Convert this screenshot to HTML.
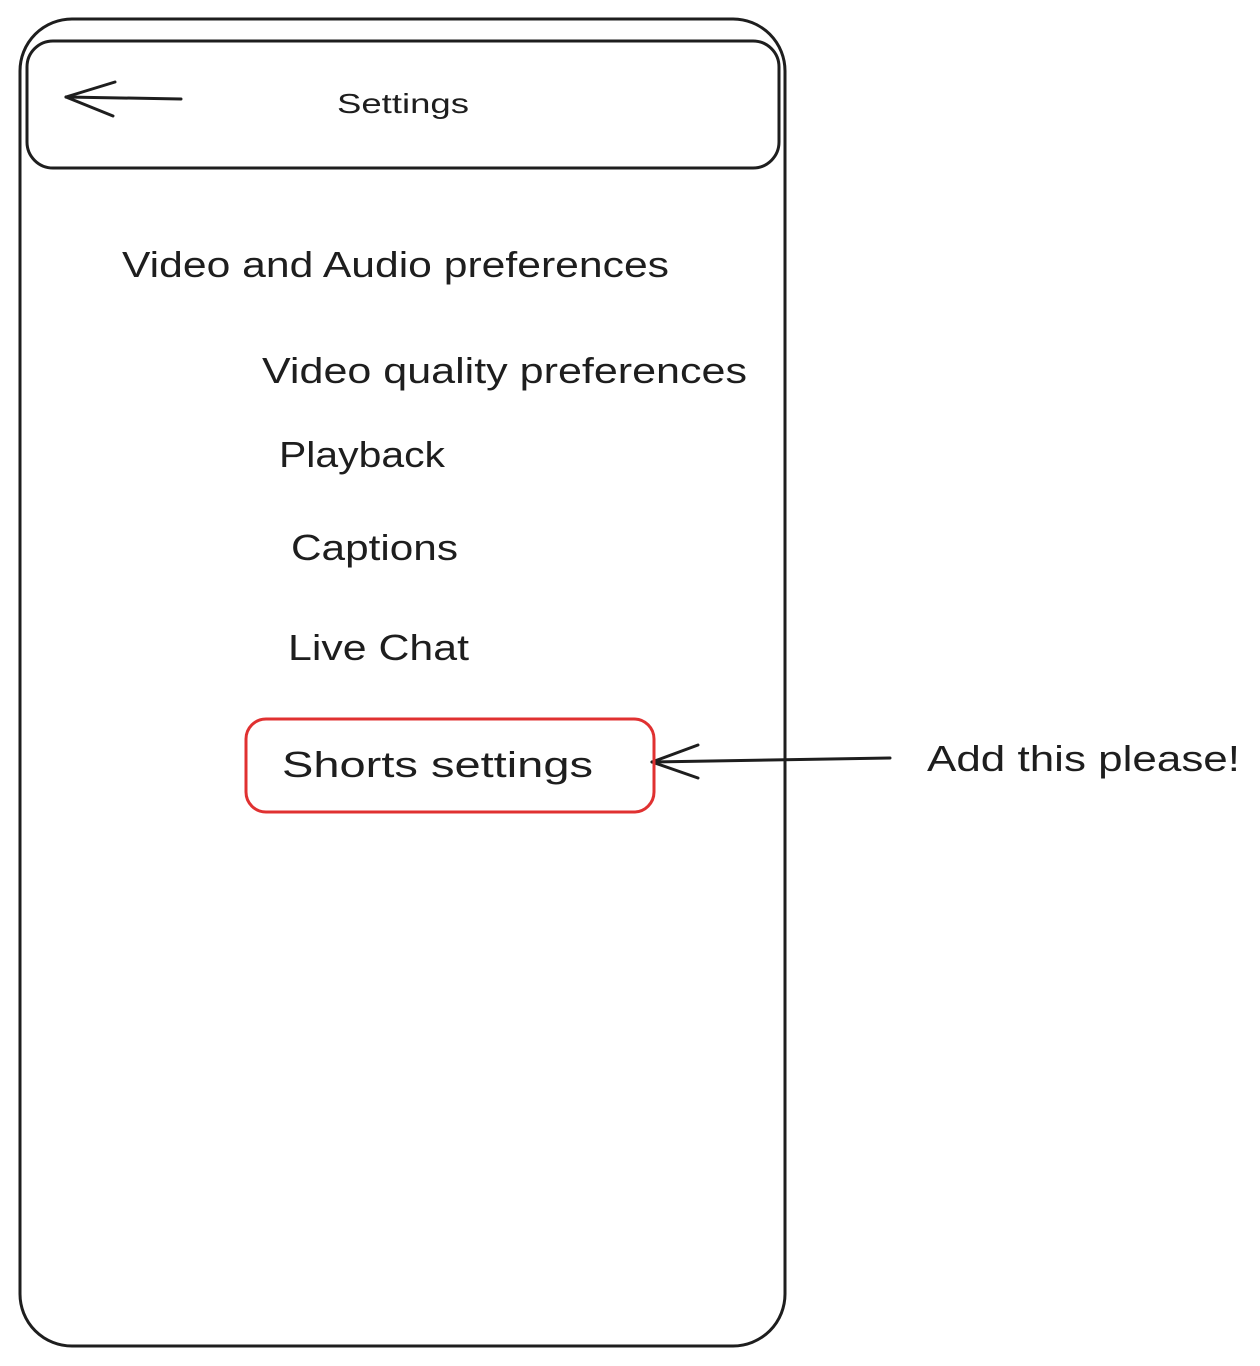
<!DOCTYPE html>
<html><head><meta charset="utf-8"><style>
html,body{margin:0;padding:0;background:#fff;}
svg{display:block;}
text{font-family:"Liberation Sans",sans-serif;fill:#1e1e1e;}
</style></head><body>
<svg width="1260" height="1366" viewBox="0 0 1260 1366" xmlns="http://www.w3.org/2000/svg">
<rect x="20" y="19" width="765" height="1327" rx="52" fill="none" stroke="#1e1e1e" stroke-width="3"/>
<rect x="27" y="41" width="752" height="127" rx="26" fill="none" stroke="#1e1e1e" stroke-width="3"/>
<g stroke="#1e1e1e" stroke-width="3" fill="none" stroke-linecap="round">
<line x1="181" y1="99" x2="66" y2="97"/>
<line x1="66" y1="97" x2="115" y2="82"/>
<line x1="66" y1="97" x2="113" y2="116"/>
<line x1="890" y1="758" x2="652" y2="762"/>
<line x1="652" y1="762" x2="698" y2="745"/>
<line x1="652" y1="762" x2="698" y2="778"/>
</g>
<rect x="246" y="719" width="408" height="93" rx="20" fill="none" stroke="#e03131" stroke-width="3"/>
<text x="337" y="113" font-size="28" textLength="132" lengthAdjust="spacingAndGlyphs">Settings</text>
<text x="122" y="277" font-size="36" textLength="547" lengthAdjust="spacingAndGlyphs">Video and Audio preferences</text>
<text x="262" y="383" font-size="36" textLength="485" lengthAdjust="spacingAndGlyphs">Video quality preferences</text>
<text x="279" y="467" font-size="36" textLength="166" lengthAdjust="spacingAndGlyphs">Playback</text>
<text x="291" y="560" font-size="36" textLength="167" lengthAdjust="spacingAndGlyphs">Captions</text>
<text x="288" y="660" font-size="36" textLength="181" lengthAdjust="spacingAndGlyphs">Live Chat</text>
<text x="282" y="777" font-size="36" textLength="311" lengthAdjust="spacingAndGlyphs">Shorts settings</text>
<text x="927" y="771" font-size="36" textLength="313" lengthAdjust="spacingAndGlyphs">Add this please!</text>
</svg>
</body></html>
